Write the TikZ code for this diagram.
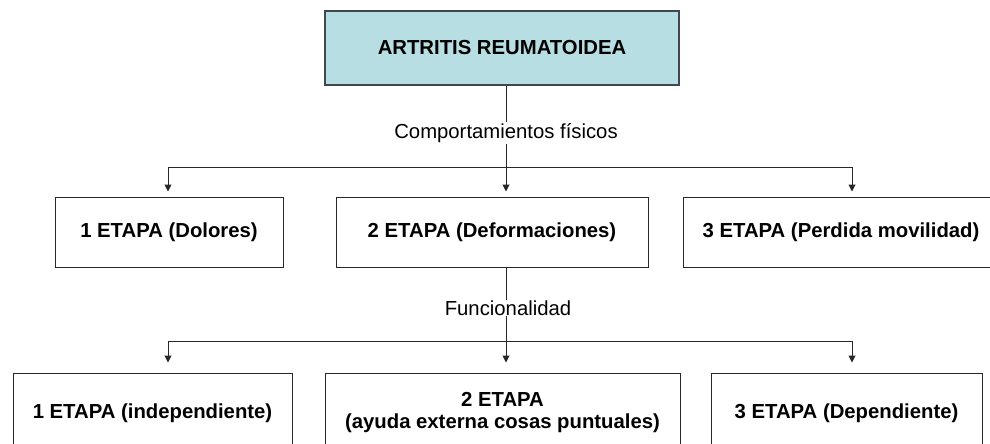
\documentclass[tikz,border=0pt]{standalone}
\usepackage{fontspec}
\setmainfont{Liberation Sans}
\usepackage{tikz}
\usetikzlibrary{arrows.meta}

\definecolor{boxfill}{RGB}{183,222,226}
\definecolor{boxedge}{RGB}{64,72,78}
\definecolor{linegray}{RGB}{40,40,40}

\tikzset{
  etapa/.style={draw=linegray, line width=1pt, fill=white, align=center,
    font=\fontsize{20.3}{22}\selectfont\bfseries, inner sep=0pt},
  link/.style={draw=linegray, line width=1pt},
  arr/.style={link, -{Triangle[length=7pt,width=7pt]}},
  tag/.style={fill=white, inner sep=1pt, font=\fontsize{20.3}{22}\selectfont}
}

\begin{document}
\begin{tikzpicture}[x=1pt,y=-1pt]
		\useasboundingbox (0,0) rectangle (990,444);
		\clip (0,0) rectangle (990,444);
		% top
		\node[etapa, fill=boxfill, draw=boxedge, line width=1.5pt, minimum width=354pt, minimum height=74pt] (ar) at (502,48) {ARTRITIS REUMATOIDEA};
		% middle row
		\node[etapa, minimum width=228pt, minimum height=70pt] (m1) at (169,232) {1 ETAPA (Dolores)};
		\node[etapa, minimum width=312pt, minimum height=70pt] (m2) at (492,232) {2 ETAPA (Deformaciones)};
		\node[etapa, minimum width=316pt, minimum height=70pt] (m3) at (841,232) {3 ETAPA (Perdida movilidad)};
		% bottom row
		\node[etapa, minimum width=279pt, minimum height=80pt] (b1) at (152.5,413) {1 ETAPA (independiente)};
		\node[etapa, minimum width=355pt, minimum height=80pt] (b2) at (502.5,413) {2 ETAPA\\(ayuda externa cosas puntuales)};
		\node[etapa, minimum width=271pt, minimum height=80pt] (b3) at (846.5,413) {3 ETAPA (Dependiente)};
		% junctions
		\coordinate (j1) at (506,167);
		\coordinate (j2) at (506,341);
		\draw[link] (ar.south -| j1) -- (j1);
		\node[tag] (c1) at (506,133) {Comportamientos físicos};
		\draw[arr, shorten >=5pt] (j1) -| ([xshift=-1pt]m1.north);
		\draw[arr, shorten >=5pt] (j1) -- (m2.north -| j1);
		\draw[arr, shorten >=5pt] (j1) -| ([xshift=11pt]m3.north);
		\draw[link] (m2.south -| j2) -- (j2);
		\node[tag] (c2) at (508,308) {Funcionalidad};
		\draw[arr, shorten >=10pt] (j2) -| ([xshift=15.5pt]b1.north);
		\draw[arr, shorten >=10pt] (j2) -- (b2.north -| j2);
		\draw[arr, shorten >=10pt] (j2) -| ([xshift=5.5pt]b3.north);
	\end{tikzpicture}
\end{document}
